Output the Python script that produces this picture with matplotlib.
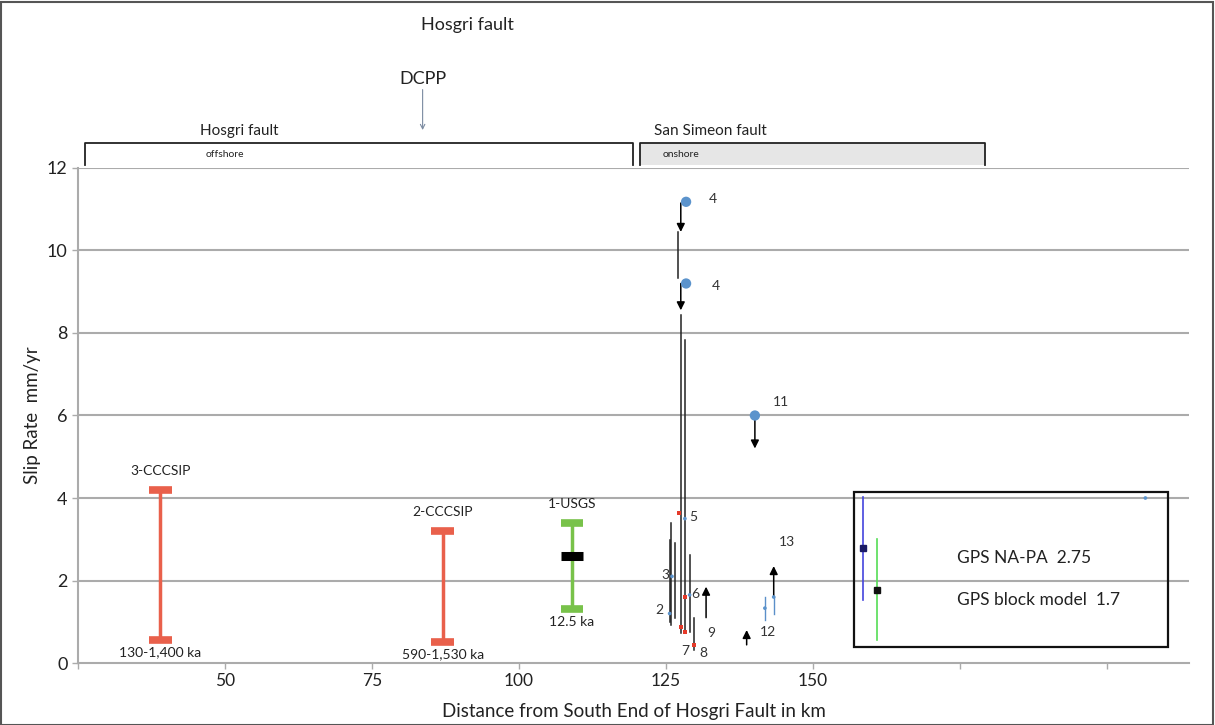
import matplotlib
matplotlib.use("Agg")
import matplotlib.pyplot as plt
from matplotlib.patches import Rectangle

plt.rcParams['font.family'] = ['Lato', 'DejaVu Sans']

# ---------------- data ----------------
# long-term ranges (capped bars)
range_names = ["3-CCCSIP", "2-CCCSIP", "1-USGS"]
range_x = [39, 87, 109]
range_lo = [0.55, 0.5, 1.3]
range_hi = [4.2, 3.2, 3.4]
range_colors = ["#e9604b", "#e9604b", "#78c24a"]
range_ages = ["130-1,400 ka", "590-1,530 ka", "12.5 ka"]
usgs_preferred = 2.6

# thin vertical slip-rate ranges (onshore sites)
vline_x = [125.6, 125.9, 126.6, 127.5, 128.2, 129.0, 129.7, 127.0]
vline_lo = [0.99, 0.92, 1.09, 0.73, 0.73, 0.75, 0.32, 9.33]
vline_hi = [2.98, 3.39, 2.91, 8.44, 7.83, 2.62, 1.09, 10.45]

# arrows (start -> end)
arrow_x = [127.5, 127.5, 140.1, 131.8, 138.7, 143.3]
arrow_from = [11.15, 9.2, 6.0, 1.1, 0.44, 1.6]
arrow_to = [10.45, 8.55, 5.2, 1.85, 0.8, 2.35]

# large blue points
big_x = [128.4, 128.4, 140.1]
big_y = [11.18, 9.2, 6.0]

# small blue points
small_x = [128.2, 126.0, 125.6, 129.0, 141.8, 143.3, 206.5]
small_y = [3.5, 2.1, 1.2, 1.65, 1.33, 1.6, 4.0]

# short blue ranges
bline_x = [141.8, 143.3]
bline_lo = [1.04, 1.2]
bline_hi = [1.6, 1.6]

# small red points
red_x = [127.2, 127.5, 128.2, 128.2, 129.7]
red_y = [3.64, 0.88, 0.75, 1.6, 0.44]

# site number labels
site_labels = ["4", "4", "11", "5", "3", "2", "6", "7", "8", "9", "12", "13"]
site_lx = [133.0, 133.5, 144.5, 129.7, 124.9, 123.9, 129.9, 128.2, 131.3, 132.6, 142.3, 145.5]
site_ly = [11.25, 9.14, 6.33, 3.54, 2.13, 1.28, 1.67, 0.29, 0.24, 0.73, 0.75, 2.93]

# GPS rates
gps_names = ["GPS NA-PA  2.75", "GPS block model  1.7"]
gps_x = [158.4, 160.8]
gps_val = [2.79, 1.77]
gps_lo = [1.53, 0.56]
gps_hi = [4.02, 3.0]
gps_colors = ["#4444dd", "#55dd55"]
gps_marker_colors = ["#1a1a66", "#111111"]

# fault segments shown above the plot
seg_names = ["Hosgri fault", "San Simeon fault"]
seg_sub = ["offshore", "onshore"]
seg_start = [26.2, 120.6]
seg_end = [119.4, 179.2]
seg_fill = ["white", "#e6e6e6"]
seg_name_x = [52.5, 132.5]
seg_sub_x = [50.0, 127.5]
dcpp_x = 83.6

xticks = [25, 50, 75, 100, 125, 150, 175, 200]
xtick_labels = ["", "50", "75", "100", "125", "150", "", ""]
yticks = [0, 2, 4, 6, 8, 10, 12]

# ---------------- figure ----------------
fig = plt.figure(figsize=(12.15, 7.25), dpi=100)
ax = fig.add_axes([0.0642, 0.0855, 0.9148, 0.6828])
ax.set_xlim(25, 214)
ax.set_ylim(0, 12)

grid_c = "#ababab"
for y in yticks[1:]:
    ax.axhline(y, color=grid_c, lw=1.5, zorder=0)
for s in ["top", "right"]:
    ax.spines[s].set_visible(False)
for s in ["left", "bottom"]:
    ax.spines[s].set_color(grid_c)
    ax.spines[s].set_linewidth(1.5)
ax.set_xticks(xticks)
ax.set_xticklabels(xtick_labels, fontsize=12.5, color="#222222")
ax.set_yticks(yticks)
ax.set_yticklabels([str(v) for v in yticks], fontsize=13, color="#222222")
ax.tick_params(axis="both", color=grid_c, length=4, width=1)
ax.set_xlabel("Distance from South End of Hosgri Fault in km", fontsize=13.5, color="#222222", labelpad=10)
ax.set_ylabel("Slip Rate  mm/yr", fontsize=13.5, color="#222222", labelpad=4)

# capped range bars
for name, x, lo, hi, c, age in zip(range_names, range_x, range_lo, range_hi, range_colors, range_ages):
    ax.plot([x, x], [lo, hi], color=c, lw=2.5, zorder=3)
    for yv in (lo, hi):
        ax.plot([x - 1.9, x + 1.9], [yv, yv], color=c, lw=5.5, solid_capstyle="butt", zorder=3)
    ax.text(x, hi + 0.32, name, ha="center", va="bottom", fontsize=10, color="#222222")
    ax.text(x, lo - 0.15, age, ha="center", va="top", fontsize=10, color="#222222")
ax.plot([range_x[2] - 1.9, range_x[2] + 1.9], [usgs_preferred, usgs_preferred],
        color="black", lw=6.5, solid_capstyle="butt", zorder=4)

# thin vertical ranges
for x, lo, hi in zip(vline_x, vline_lo, vline_hi):
    ax.plot([x, x], [lo, hi], color="#222222", lw=1.1, zorder=3)

# short blue ranges
for x, lo, hi in zip(bline_x, bline_lo, bline_hi):
    ax.plot([x, x], [lo, hi], color="#5b8fc9", lw=1.0, zorder=3)

# arrows
for x, y0, y1 in zip(arrow_x, arrow_from, arrow_to):
    ax.annotate("", xy=(x, y1), xytext=(x, y0),
                arrowprops=dict(arrowstyle="-|>", color="black", lw=1.1,
                                mutation_scale=12, shrinkA=0, shrinkB=0), zorder=5)

# points
ax.scatter(big_x, big_y, s=55, color="#5b93cc", zorder=6, edgecolors="none")
ax.scatter(small_x, small_y, s=7, color="#5b93cc", zorder=6, edgecolors="none")
ax.scatter(red_x, red_y, s=9, marker="s", color="#e53a2a", zorder=6, edgecolors="none")

# site labels
for t, lx, ly in zip(site_labels, site_lx, site_ly):
    ax.text(lx, ly, t, ha="center", va="center", fontsize=10, color="#333333")

# GPS legend box
ax.add_patch(Rectangle((156.9, 0.39), 210.4 - 156.9, 4.15 - 0.39, fill=False,
                       edgecolor="#111111", lw=1.6, zorder=4))
for x, v, lo, hi, c, mc in zip(gps_x, gps_val, gps_lo, gps_hi, gps_colors, gps_marker_colors):
    ax.plot([x, x], [lo, hi], color=c, lw=1.2, zorder=5)
    ax.plot([x], [v], marker="s", ms=4, color=mc, zorder=6)
ax.text(174.5, 2.55, gps_names[0], ha="left", va="center", fontsize=12.5, color="#222222")
ax.text(174.5, 1.53, gps_names[1], ha="left", va="center", fontsize=12.5, color="#222222")

# fault segment boxes above the axes
for name, sub, x0, x1, fc, nx, sx in zip(seg_names, seg_sub, seg_start, seg_end, seg_fill,
                                         seg_name_x, seg_sub_x):
    ax.add_patch(Rectangle((x0, 12.07), x1 - x0, 0.53, facecolor=fc, edgecolor="none",
                           clip_on=False, zorder=2))
    ax.plot([x0, x0, x1, x1], [12.07, 12.6, 12.6, 12.07], color="#222222", lw=1.3,
            clip_on=False, zorder=3)
    ax.text(sx, 12.33, sub, ha="center", va="center", fontsize=7.5, color="#222222")
    ax.text(nx, 12.72, name, ha="center", va="bottom", fontsize=11, color="#222222",
            clip_on=False)

# DCPP marker
ax.annotate("", xy=(dcpp_x, 12.92), xytext=(dcpp_x, 13.9),
            arrowprops=dict(arrowstyle="->", color="#7a8aa0", lw=0.8, mutation_scale=8,
                            shrinkA=0, shrinkB=0), annotation_clip=False)
ax.text(dcpp_x, 13.97, "DCPP", ha="center", va="bottom", fontsize=13, color="#222222", clip_on=False)
fig.text(467 / 1215, 1 - 25 / 725, "Hosgri fault", ha="center", va="center", fontsize=13, color="#222222")

# outer frame
fig.patches.append(Rectangle((0.001, 0.0), 0.997, 0.997, transform=fig.transFigure,
                             fill=False, edgecolor="#555555", lw=1.5))

fig.savefig("out.png", dpi=100)
